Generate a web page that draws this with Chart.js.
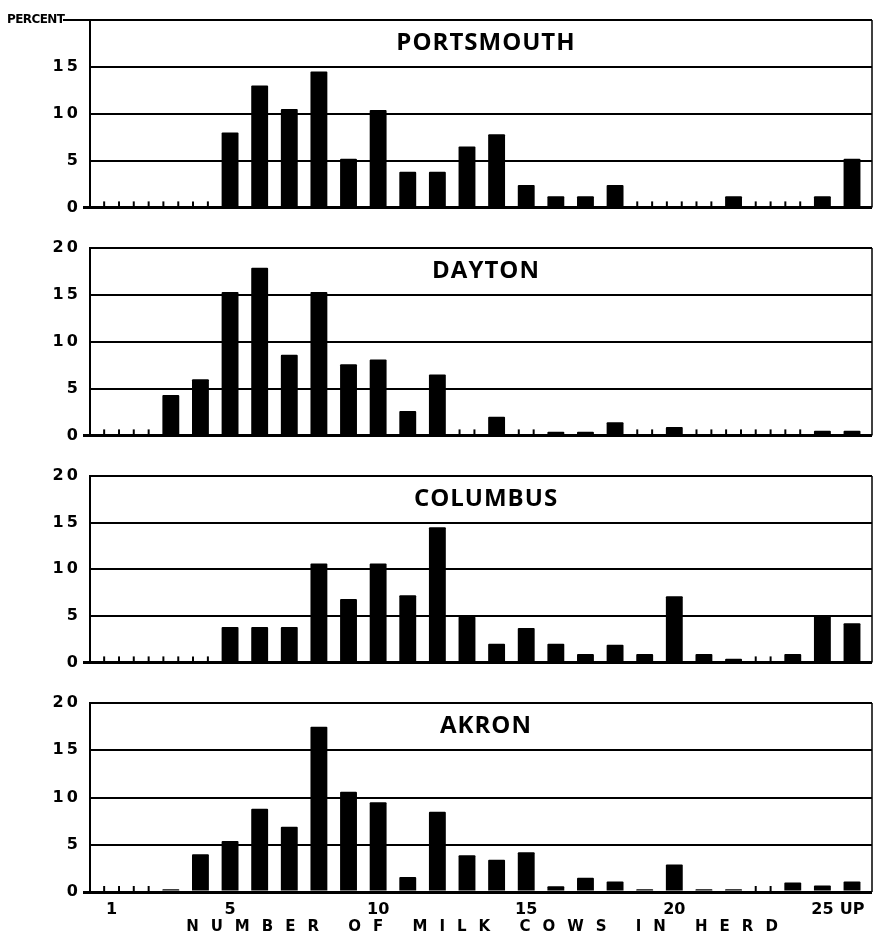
<!DOCTYPE html>
<html>
<head>
<meta charset="utf-8">
<title>Number of milk cows in herd</title>
<script src="https://cdn.jsdelivr.net/npm/chart.js@4.4.1/dist/chart.umd.min.js"></script>
<style>
  html, body { margin: 0; padding: 0; background: #fff; }
  body { width: 876px; height: 937px; position: relative; overflow: hidden; }
  .panel { position: absolute; left: 0; width: 876px; }
</style>
</head>
<body>
<div class="panel" style="top:0px;height:222px"><canvas id="portsmouth"></canvas></div>
<div class="panel" style="top:228px;height:222px"><canvas id="dayton"></canvas></div>
<div class="panel" style="top:456px;height:221px"><canvas id="columbus"></canvas></div>
<div class="panel" style="top:683px;height:254px"><canvas id="akron"></canvas></div>
<script>
// herd size classes, 1 cow up to 25, then "up"
const herdSizes = ["1", "2", "3", "4", "5", "6", "7", "8", "9", "10", "11", "12", "13",
  "14", "15", "16", "17", "18", "19", "20", "21", "22", "23", "24", "25", "UP"];

// percent of herds in each size class
const portsmouth = [0, 0, 0, 0, 8.0, 13.0, 10.5, 14.5, 5.2, 10.4, 3.8, 3.8, 6.5,
  7.8, 2.4, 1.2, 1.2, 2.4, 0, 0, 0, 1.2, 0, 0, 1.2, 5.2];
const dayton = [0, 0, 4.3, 6.0, 15.3, 17.9, 8.6, 15.3, 7.6, 8.1, 2.6, 6.5, 0,
  2.0, 0, 0.4, 0.4, 1.4, 0, 0.9, 0, 0, 0, 0, 0.5, 0.5];
const columbus = [0, 0, 0, 0, 3.8, 3.8, 3.8, 10.6, 6.8, 10.6, 7.2, 14.5, 4.9,
  2.0, 3.7, 2.0, 0.9, 1.9, 0.9, 7.1, 0.9, 0.4, 0, 0.9, 5.0, 4.2];
const akron = [0, 0, 0.3, 4.0, 5.4, 8.8, 6.9, 17.5, 10.6, 9.5, 1.6, 8.5, 3.9,
  3.4, 4.2, 0.6, 1.5, 1.1, 0.3, 2.9, 0.3, 0.3, 0, 1.0, 0.7, 1.1];

const yTicks = [0, 5, 10, 15, 20];
const xTickLabels = ["1", "5", "10", "15", "20", "25", "UP"];

const numFont = { family: "DejaVu Sans", weight: "bold", size: 16 };

// little stubs where a class has no herds
const zeroMarks = {
  id: "zeroMarks",
  afterDatasetsDraw(chart) {
    const ctx = chart.ctx;
    const pts = chart.data.datasets[0].data;
    chart.getDatasetMeta(0).data.forEach((bar, i) => {
      if (pts[i].y !== 0) return;
      const p = bar.getProps(["x", "width", "base"], true);
      ctx.save();
      ctx.strokeStyle = "#000";
      ctx.lineWidth = 2;
      [p.x - p.width / 2 + 1, p.x + p.width / 2 - 1].forEach((x) => {
        ctx.beginPath();
        ctx.moveTo(x, p.base);
        ctx.lineTo(x, p.base - 6);
        ctx.stroke();
      });
      ctx.restore();
    });
  },
};

// city name, right edge, PERCENT header and the axis title
const panelDecor = {
  id: "panelDecor",
  afterDraw(chart, args, opts) {
    const ctx = chart.ctx;
    const area = chart.chartArea;
    const y = chart.scales.y;
    ctx.save();
    ctx.fillStyle = "#000";
    ctx.strokeStyle = "#000";

    ctx.lineWidth = 1.5;
    ctx.beginPath();
    ctx.moveTo(area.right, area.top);
    ctx.lineTo(area.right, area.bottom);
    ctx.stroke();

    ctx.font = "bold 24px 'Open Sans'";
    ctx.letterSpacing = "1px";
    ctx.textAlign = "center";
    ctx.textBaseline = "middle";
    ctx.fillText(opts.title, (area.left + area.right) / 2 + 5, y.getPixelForValue(17.5));

    if (opts.percent) {
      const top = y.getPixelForValue(20);
      ctx.font = "900 12px 'DejaVu Sans'";
      ctx.letterSpacing = "-0.6px";
      ctx.textAlign = "left";
      ctx.fillText("PERCENT", 7, top);
      ctx.lineWidth = 2;
      ctx.beginPath();
      ctx.moveTo(63, top);
      ctx.lineTo(area.left, top);
      ctx.stroke();
    }

    if (opts.axisTitle) {
      ctx.font = "bold 15px 'DejaVu Sans'";
      ctx.letterSpacing = "12px";
      ctx.textAlign = "center";
      ctx.fillText(opts.axisTitle, 488, area.bottom + 35);
    }
    ctx.restore();
  },
};

function createPanel(id, name, values, first, last) {
  return new Chart(id, {
    type: "bar",
    data: {
      datasets: [
        {
          data: values.map((v, i) => ({ x: i + 1, y: v })),
          backgroundColor: "#000",
          barPercentage: 0.57,
          categoryPercentage: 1,
          borderRadius: 1,
        },
      ],
    },
    options: {
      responsive: true,
      maintainAspectRatio: false,
      animation: false,
      layout: { padding: { top: 20, right: 4, bottom: last ? 0 : 10, left: 0 } },
      plugins: {
        legend: { display: false },
        tooltip: { enabled: false },
        panelDecor: {
          title: name,
          percent: first,
          axisTitle: last ? "NUMBER OF MILK COWS IN HERD" : null,
        },
      },
      scales: {
        x: {
          type: "linear",
          min: 0.271,
          max: 26.675,
          offset: false,
          display: last,
          grid: { display: false, drawTicks: false },
          border: { display: false },
          afterBuildTicks: (axis) => {
            axis.ticks = xTickLabels.map((l) => ({ value: herdSizes.indexOf(l) + 1 }));
          },
          afterFit: (axis) => {
            axis.height = last ? 45 : 0;
          },
          ticks: {
            padding: 8,
            autoSkip: false,
            maxRotation: 0,
            color: "#000",
            font: numFont,
            callback: (v) => herdSizes[v - 1],
          },
        },
        y: {
          min: 0,
          max: 20,
          afterBuildTicks: (axis) => {
            axis.ticks = yTicks.map((v) => ({ value: v }));
          },
          afterFit: (axis) => {
            axis.width = 90;
          },
          grid: {
            color: "#000",
            lineWidth: (c) => (c.tick && c.tick.value === 0 ? 3 : 2),
            tickLength: 7,
            tickWidth: 3,
            tickColor: (c) => (c.tick && c.tick.value === 0 ? "#000" : "rgba(0,0,0,0)"),
          },
          border: { display: true, color: "#000", width: 2 },
          ticks: {
            padding: 5,
            color: "#000",
            font: numFont,
            callback: (v) => (first && v === 20 ? "" : String(v).split("").join("\u2009")),
          },
        },
      },
    },
    plugins: [zeroMarks, panelDecor],
  });
}

createPanel("portsmouth", "PORTSMOUTH", portsmouth, true, false);
createPanel("dayton", "DAYTON", dayton, false, false);
createPanel("columbus", "COLUMBUS", columbus, false, false);
createPanel("akron", "AKRON", akron, false, true);
</script>
</body>
</html>
